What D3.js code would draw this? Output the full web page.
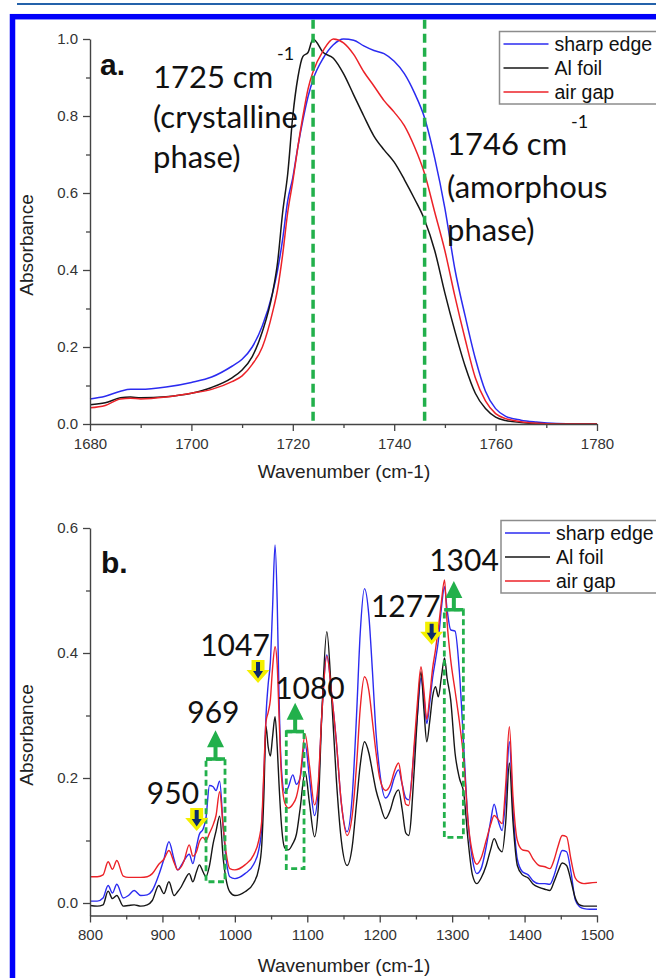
<!DOCTYPE html>
<html>
<head>
<meta charset="utf-8">
<script src="https://cdn.jsdelivr.net/npm/d3@7"></script>
<style>
  html, body { margin: 0; padding: 0; background: #fff; }
  svg { display: block; }
</style>
</head>
<body>
<svg id="fig" width="656" height="978"></svg>
<script>
// ---------- Panel a: carbonyl band, 1680-1780 cm-1 ----------
const waveA = [1680,1683,1686,1688,1690,1695,1700,1704,1708,1710,1712,1714,1716,1717,1718,1719,1720,1721,1722,1723,1724,1726,1728,1730,1732,1734,1736,1738,1740,1742,1744,1746,1748,1750,1752,1754,1756,1758,1760,1762,1765,1768,1772,1776,1780];
const sharpEdgeA = [0.065,0.072,0.085,0.090,0.090,0.096,0.108,0.122,0.150,0.168,0.200,0.255,0.340,0.400,0.480,0.580,0.640,0.720,0.790,0.850,0.895,0.950,0.985,1.000,0.997,0.982,0.970,0.962,0.942,0.910,0.860,0.795,0.690,0.560,0.400,0.280,0.170,0.085,0.040,0.020,0.010,0.005,0.001,0,0];
const alFoilA    = [0.050,0.055,0.068,0.070,0.068,0.071,0.080,0.095,0.120,0.140,0.175,0.240,0.340,0.420,0.550,0.650,0.800,0.900,0.955,0.965,1.000,0.965,0.950,0.910,0.855,0.800,0.748,0.712,0.680,0.635,0.585,0.530,0.450,0.340,0.240,0.150,0.080,0.040,0.018,0.009,0.004,0.001,0,0,0];
const airGapA    = [0.042,0.048,0.065,0.067,0.065,0.070,0.080,0.090,0.110,0.125,0.155,0.200,0.290,0.350,0.440,0.550,0.630,0.720,0.800,0.870,0.915,0.970,1.000,0.990,0.960,0.915,0.878,0.840,0.810,0.775,0.720,0.650,0.550,0.450,0.330,0.220,0.120,0.060,0.027,0.014,0.006,0.002,0,0,0];
const xTicksA = [1680,1700,1720,1740,1760,1780];
const yTicksA = [0,0.2,0.4,0.6,0.8,1.0];
const phaseLines = [1724, 1746];

// ---------- Panel b: fingerprint region, 800-1500 cm-1 ----------
const waveB = [800,810,818,825,831,837,846,853,861,870,879,886,895,902,909,916,921,926,930,937,942,947,951,956,960,965,970,974,979,984,988,993,1000,1014,1026,1033,1037,1040,1043,1046,1049,1052,1055.5,1058.5,1061,1064,1069,1074,1080,1085,1090,1097,1103,1110,1115,1120,1127,1134,1140,1147,1155,1162,1168,1173,1179,1185,1190,1195,1200,1208,1215,1220,1226,1231,1236,1240,1248,1252,1257,1261,1265,1269,1273,1277,1281,1285,1289.5,1293,1298,1304,1310,1316,1322,1328,1334,1340,1347,1353,1358,1364,1369,1374,1379,1384,1390,1397,1405,1412,1420,1428,1435,1441,1446,1452,1458,1464,1470,1476,1482,1490,1500];
const sharpEdgeB = [0.003,0.003,0.008,0.028,0.016,0.030,0.008,0.012,0.020,0.012,0.013,0.020,0.045,0.070,0.098,0.070,0.053,0.060,0.068,0.078,0.063,0.090,0.110,0.118,0.135,0.188,0.186,0.180,0.195,0.120,0.070,0.042,0.039,0.047,0.062,0.085,0.120,0.200,0.300,0.350,0.385,0.470,0.573,0.480,0.330,0.220,0.176,0.186,0.205,0.190,0.200,0.255,0.200,0.140,0.180,0.300,0.397,0.330,0.260,0.160,0.114,0.170,0.300,0.430,0.503,0.460,0.370,0.270,0.210,0.168,0.180,0.200,0.213,0.190,0.168,0.165,0.250,0.300,0.360,0.330,0.287,0.320,0.360,0.389,0.420,0.470,0.506,0.470,0.437,0.435,0.370,0.250,0.130,0.070,0.047,0.055,0.090,0.130,0.158,0.130,0.116,0.170,0.258,0.150,0.070,0.050,0.045,0.035,0.031,0.031,0.030,0.045,0.065,0.084,0.082,0.050,0.005,-0.006,-0.009,-0.010,-0.010];
const alFoilB    = [-0.004,-0.005,-0.003,0.019,0.007,0.012,-0.005,-0.004,-0.003,-0.005,-0.003,0.004,0.028,0.015,0.034,0.012,0.018,0.026,0.035,0.047,0.034,0.050,0.061,0.050,0.042,0.060,0.095,0.115,0.139,0.070,0.037,0.018,0.012,0.018,0.032,0.055,0.090,0.170,0.283,0.250,0.235,0.265,0.298,0.250,0.190,0.130,0.088,0.085,0.095,0.110,0.150,0.210,0.160,0.106,0.150,0.300,0.434,0.320,0.200,0.100,0.060,0.090,0.160,0.220,0.258,0.240,0.210,0.180,0.160,0.135,0.150,0.170,0.181,0.150,0.112,0.108,0.220,0.300,0.370,0.310,0.258,0.290,0.330,0.346,0.330,0.360,0.392,0.360,0.325,0.240,0.200,0.176,0.100,0.045,0.031,0.040,0.060,0.085,0.103,0.088,0.082,0.130,0.224,0.130,0.060,0.045,0.040,0.030,0.025,0.022,0.020,0.035,0.050,0.064,0.060,0.036,0.008,-0.003,-0.005,-0.005,-0.005];
const airGapB    = [0.042,0.042,0.045,0.066,0.054,0.068,0.043,0.041,0.041,0.041,0.042,0.047,0.062,0.070,0.084,0.065,0.053,0.058,0.068,0.093,0.075,0.082,0.098,0.105,0.100,0.112,0.125,0.140,0.178,0.120,0.080,0.055,0.053,0.061,0.077,0.100,0.130,0.210,0.290,0.305,0.325,0.375,0.410,0.380,0.300,0.210,0.160,0.152,0.158,0.170,0.200,0.270,0.220,0.157,0.190,0.300,0.395,0.330,0.260,0.160,0.108,0.140,0.220,0.310,0.362,0.340,0.290,0.240,0.200,0.180,0.190,0.210,0.224,0.190,0.158,0.156,0.260,0.320,0.378,0.340,0.294,0.330,0.375,0.405,0.440,0.480,0.517,0.450,0.389,0.340,0.290,0.229,0.130,0.080,0.062,0.072,0.100,0.125,0.140,0.133,0.127,0.190,0.282,0.170,0.100,0.085,0.083,0.070,0.060,0.058,0.055,0.070,0.090,0.108,0.106,0.070,0.040,0.033,0.031,0.032,0.033];
const xTicksB = [800,900,1000,1100,1200,1300,1400,1500];
const yTicksB = [0,0.2,0.4,0.6];

// Band assignments marked on panel b
const bandLabels = ["950","969","1047","1080","1277","1304"];
const bandLabelX = [914.5, 970.3, 1000.2, 1103.7, 1236, 1316.4];
const bandLabelY = [0.158, 0.2875, 0.395, 0.326, 0.457, 0.532];
// decreasing bands (down arrows)
const downX = [947.3, 1032, 1271.7];
const downY = [0.152, 0.389, 0.450];
// increasing bands (boxed, up arrows)
const boxLo  = [960.2, 1071, 1289.2];
const boxHi  = [986.4, 1095.5, 1315.5];
const boxTop = [0.230, 0.274, 0.469];
const boxBot = [0.034, 0.055, 0.105];

const seriesNames = ["sharp edge", "Al foil", "air gap"];
const seriesColors = ["#2b2bf0", "#161616", "#ec2228"];
const green = "#22b04b";

const svg = d3.select("#fig");

// page furniture: rule at top and blue frame
svg.append("line").attr("x1", 17).attr("x2", 656).attr("y1", 4).attr("y2", 4)
  .attr("stroke", "#2462aa").attr("stroke-width", 2);
svg.append("rect").attr("x", 12.5).attr("y", 16.7).attr("width", 700).attr("height", 1000)
  .attr("fill", "none").attr("stroke", "#0000fa").attr("stroke-width", 5.5);

const defs = svg.append("defs");
defs.append("filter").attr("id", "soft").append("feGaussianBlur").attr("stdDeviation", 0.7);

const tickFont = "'Liberation Sans', Arial, sans-serif";

function drawAxes(g, x, y, xMajor, xMinor, yMajor, yMinor, xFmt, yFmt) {
  const yBase = y.range()[0];
  const xLeft = x.range()[0];
  const style = sel => {
    sel.select(".domain").attr("stroke", "#444").attr("stroke-width", 1.4);
    sel.selectAll(".tick line").attr("stroke", "#444").attr("stroke-width", 1.3);
    sel.selectAll("text").attr("fill", "#333").style("font-family", tickFont).style("font-size", "15px");
  };
  g.append("g").attr("transform", `translate(0,${yBase})`)
    .call(d3.axisBottom(x).tickValues(xMinor).tickSize(4).tickSizeOuter(0).tickFormat(""))
    .call(style).call(s => s.select(".domain").remove());
  g.append("g").attr("transform", `translate(0,${yBase})`)
    .call(d3.axisBottom(x).tickValues(xMajor).tickSize(7).tickSizeOuter(0).tickPadding(7).tickFormat(xFmt))
    .call(style);
  g.append("g").attr("transform", `translate(${xLeft},0)`)
    .call(d3.axisLeft(y).tickValues(yMinor).tickSize(4).tickSizeOuter(0).tickFormat(""))
    .call(style).call(s => s.select(".domain").remove());
  g.append("g").attr("transform", `translate(${xLeft},0)`)
    .call(d3.axisLeft(y).tickValues(yMajor).tickSize(7).tickSizeOuter(0).tickPadding(5).tickFormat(yFmt))
    .call(style);
}

function drawLegend(g, x0, y0, rowY) {
  g.append("rect").attr("x", x0).attr("y", y0).attr("width", 180).attr("height", rowY[2] + 12 - y0)
    .attr("fill", "#fff").attr("stroke", "#8c8c8c").attr("stroke-width", 1.5);
  seriesNames.forEach((n, i) => {
    g.append("line").attr("x1", x0 + 4).attr("x2", x0 + 49).attr("y1", rowY[i]).attr("y2", rowY[i])
      .attr("stroke", seriesColors[i]).attr("stroke-width", 1.5);
    g.append("text").attr("x", x0 + 55).attr("y", rowY[i] + 6.5).text(n)
      .style("font-family", tickFont).style("font-size", "19.5px").attr("fill", "#111");
  });
}

function drawAxisTitles(g, cx, baseY, cy) {
  g.append("text").attr("x", cx).attr("y", baseY).attr("text-anchor", "middle")
    .style("font-family", tickFont).style("font-size", "19px").attr("fill", "#222")
    .text("Wavenumber (cm-1)");
  g.append("text").attr("transform", `translate(33,${cy}) rotate(-90)`).attr("text-anchor", "middle")
    .style("font-family", tickFont).style("font-size", "19px").attr("fill", "#222")
    .text("Absorbance");
}

const fmt1 = d => d.toFixed(1);

// ================= Panel a =================
const gA = svg.append("g");
const xA = d3.scaleLinear().domain([1680, 1780]).range([90, 597]);
const yA = d3.scaleLinear().domain([0, 1]).range([424, 39]);

[sharpEdgeA, alFoilA, airGapA].forEach((vals, i) => {
  const line = d3.line().x((d, j) => xA(waveA[j])).y(d => yA(d)).curve(d3.curveMonotoneX);
  gA.append("path").attr("d", line(vals)).attr("fill", "none")
    .attr("stroke", seriesColors[i]).attr("stroke-width", 1.5);
});

phaseLines.forEach(w => {
  gA.append("line").attr("x1", xA(w)).attr("x2", xA(w)).attr("y1", yA(1.05)).attr("y2", yA(0))
    .attr("stroke", green).attr("stroke-width", 3.5).attr("stroke-dasharray", "9,5");
});

drawAxes(gA, xA, yA, xTicksA, [1690,1710,1730,1750,1770], yTicksA, [0.1,0.3,0.5,0.7,0.9], d => d, fmt1);
drawAxisTitles(gA, 344, 478, 245);
drawLegend(gA, 499.5, 31.5, [44, 68, 92]);

const bigFont = "Lato, 'Open Sans', sans-serif";
gA.append("text").attr("x", 100).attr("y", 75).text("a.")
  .style("font-family", tickFont).style("font-weight", "bold").style("font-size", "30px").attr("fill", "#111");

function phaseNote(g, x, lines, baselines, supX, supY) {
  lines.forEach((t, i) => {
    g.append("text").attr("x", x).attr("y", baselines[i]).text(t)
      .style("font-family", bigFont).style("font-size", "31px").attr("fill", "#111");
  });
  g.append("text").attr("x", supX).attr("y", supY).text("-1")
    .style("font-family", bigFont).style("font-size", "18px").attr("fill", "#111");
}
phaseNote(gA, 153, ["1725 cm", "(crystalline", "phase)"], [88, 128, 168], 277, 60);
phaseNote(gA, 447, ["1746 cm", "(amorphous", "phase)"], [155, 198, 241], 571, 128);

// ================= Panel b =================
const gB = svg.append("g");
const xB = d3.scaleLinear().domain([800, 1500]).range([90, 597]);
const yB = d3.scaleLinear().domain([-0.02, 0.6]).range([915.5, 528]);

[sharpEdgeB, alFoilB, airGapB].forEach((vals, i) => {
  const line = d3.line().x((d, j) => xB(waveB[j])).y(d => yB(d)).curve(d3.curveMonotoneX);
  gB.append("path").attr("d", line(vals)).attr("fill", "none")
    .attr("stroke", seriesColors[i]).attr("stroke-width", 1.4);
});

drawAxes(gB, xB, yB, xTicksB, [850,950,1050,1150,1250,1350,1450], yTicksB, [0.1,0.3,0.5], d => d, fmt1);
drawAxisTitles(gB, 344, 972, 735);
drawLegend(gB, 501, 520.5, [533, 557, 581]);

gB.append("text").attr("x", 101).attr("y", 573).text("b.")
  .style("font-family", tickFont).style("font-weight", "bold").style("font-size", "30px").attr("fill", "#111");

// boxed bands with up arrows
boxLo.forEach((lo, i) => {
  const x0 = xB(lo), x1 = xB(boxHi[i]), yt = yB(boxTop[i]), yb = yB(boxBot[i]);
  gB.append("rect").attr("x", x0).attr("y", yt).attr("width", x1 - x0).attr("height", yb - yt)
    .attr("fill", "none").attr("stroke", green).attr("stroke-width", 2.8).attr("stroke-dasharray", "6,3.5");
  const cx = (x0 + x1) / 2;
  const up = `M${x0},${yt + 1.5} L${x1},${yt + 1.5} L${x1},${yt - 2} L${cx + 2},${yt - 2} L${cx + 2},${yt - 12}
              L${cx + 8.5},${yt - 12} L${cx},${yt - 29} L${cx - 8.5},${yt - 12} L${cx - 2},${yt - 12}
              L${cx - 2},${yt - 2} L${x0},${yt - 2} Z`;
  gB.append("path").attr("d", up).attr("fill", green);
});

// decreasing bands: navy arrows on a yellow halo
downX.forEach((w, i) => {
  const cx = xB(w), ty = yB(downY[i]);
  const halo = `M${cx - 6.5},${ty} L${cx + 6.5},${ty} L${cx + 6.5},${ty + 10} L${cx + 11.5},${ty + 10}
                L${cx},${ty + 23} L${cx - 11.5},${ty + 10} L${cx - 6.5},${ty + 10} Z`;
  gB.append("path").attr("d", halo).attr("fill", "#f4f000").attr("filter", "url(#soft)");
  const arrow = `M${cx - 2},${ty + 2} L${cx + 2},${ty + 2} L${cx + 2},${ty + 11} L${cx + 5},${ty + 11}
                 L${cx},${ty + 18.5} L${cx - 5},${ty + 11} L${cx - 2},${ty + 11} Z`;
  gB.append("path").attr("d", arrow).attr("fill", "#0d2a6e");
});

bandLabels.forEach((t, i) => {
  gB.append("text").attr("x", xB(bandLabelX[i])).attr("y", yB(bandLabelY[i]))
    .attr("text-anchor", "middle").text(t)
    .style("font-family", bigFont).style("font-size", "30px").attr("fill", "#111");
});
</script>
</body>
</html>
